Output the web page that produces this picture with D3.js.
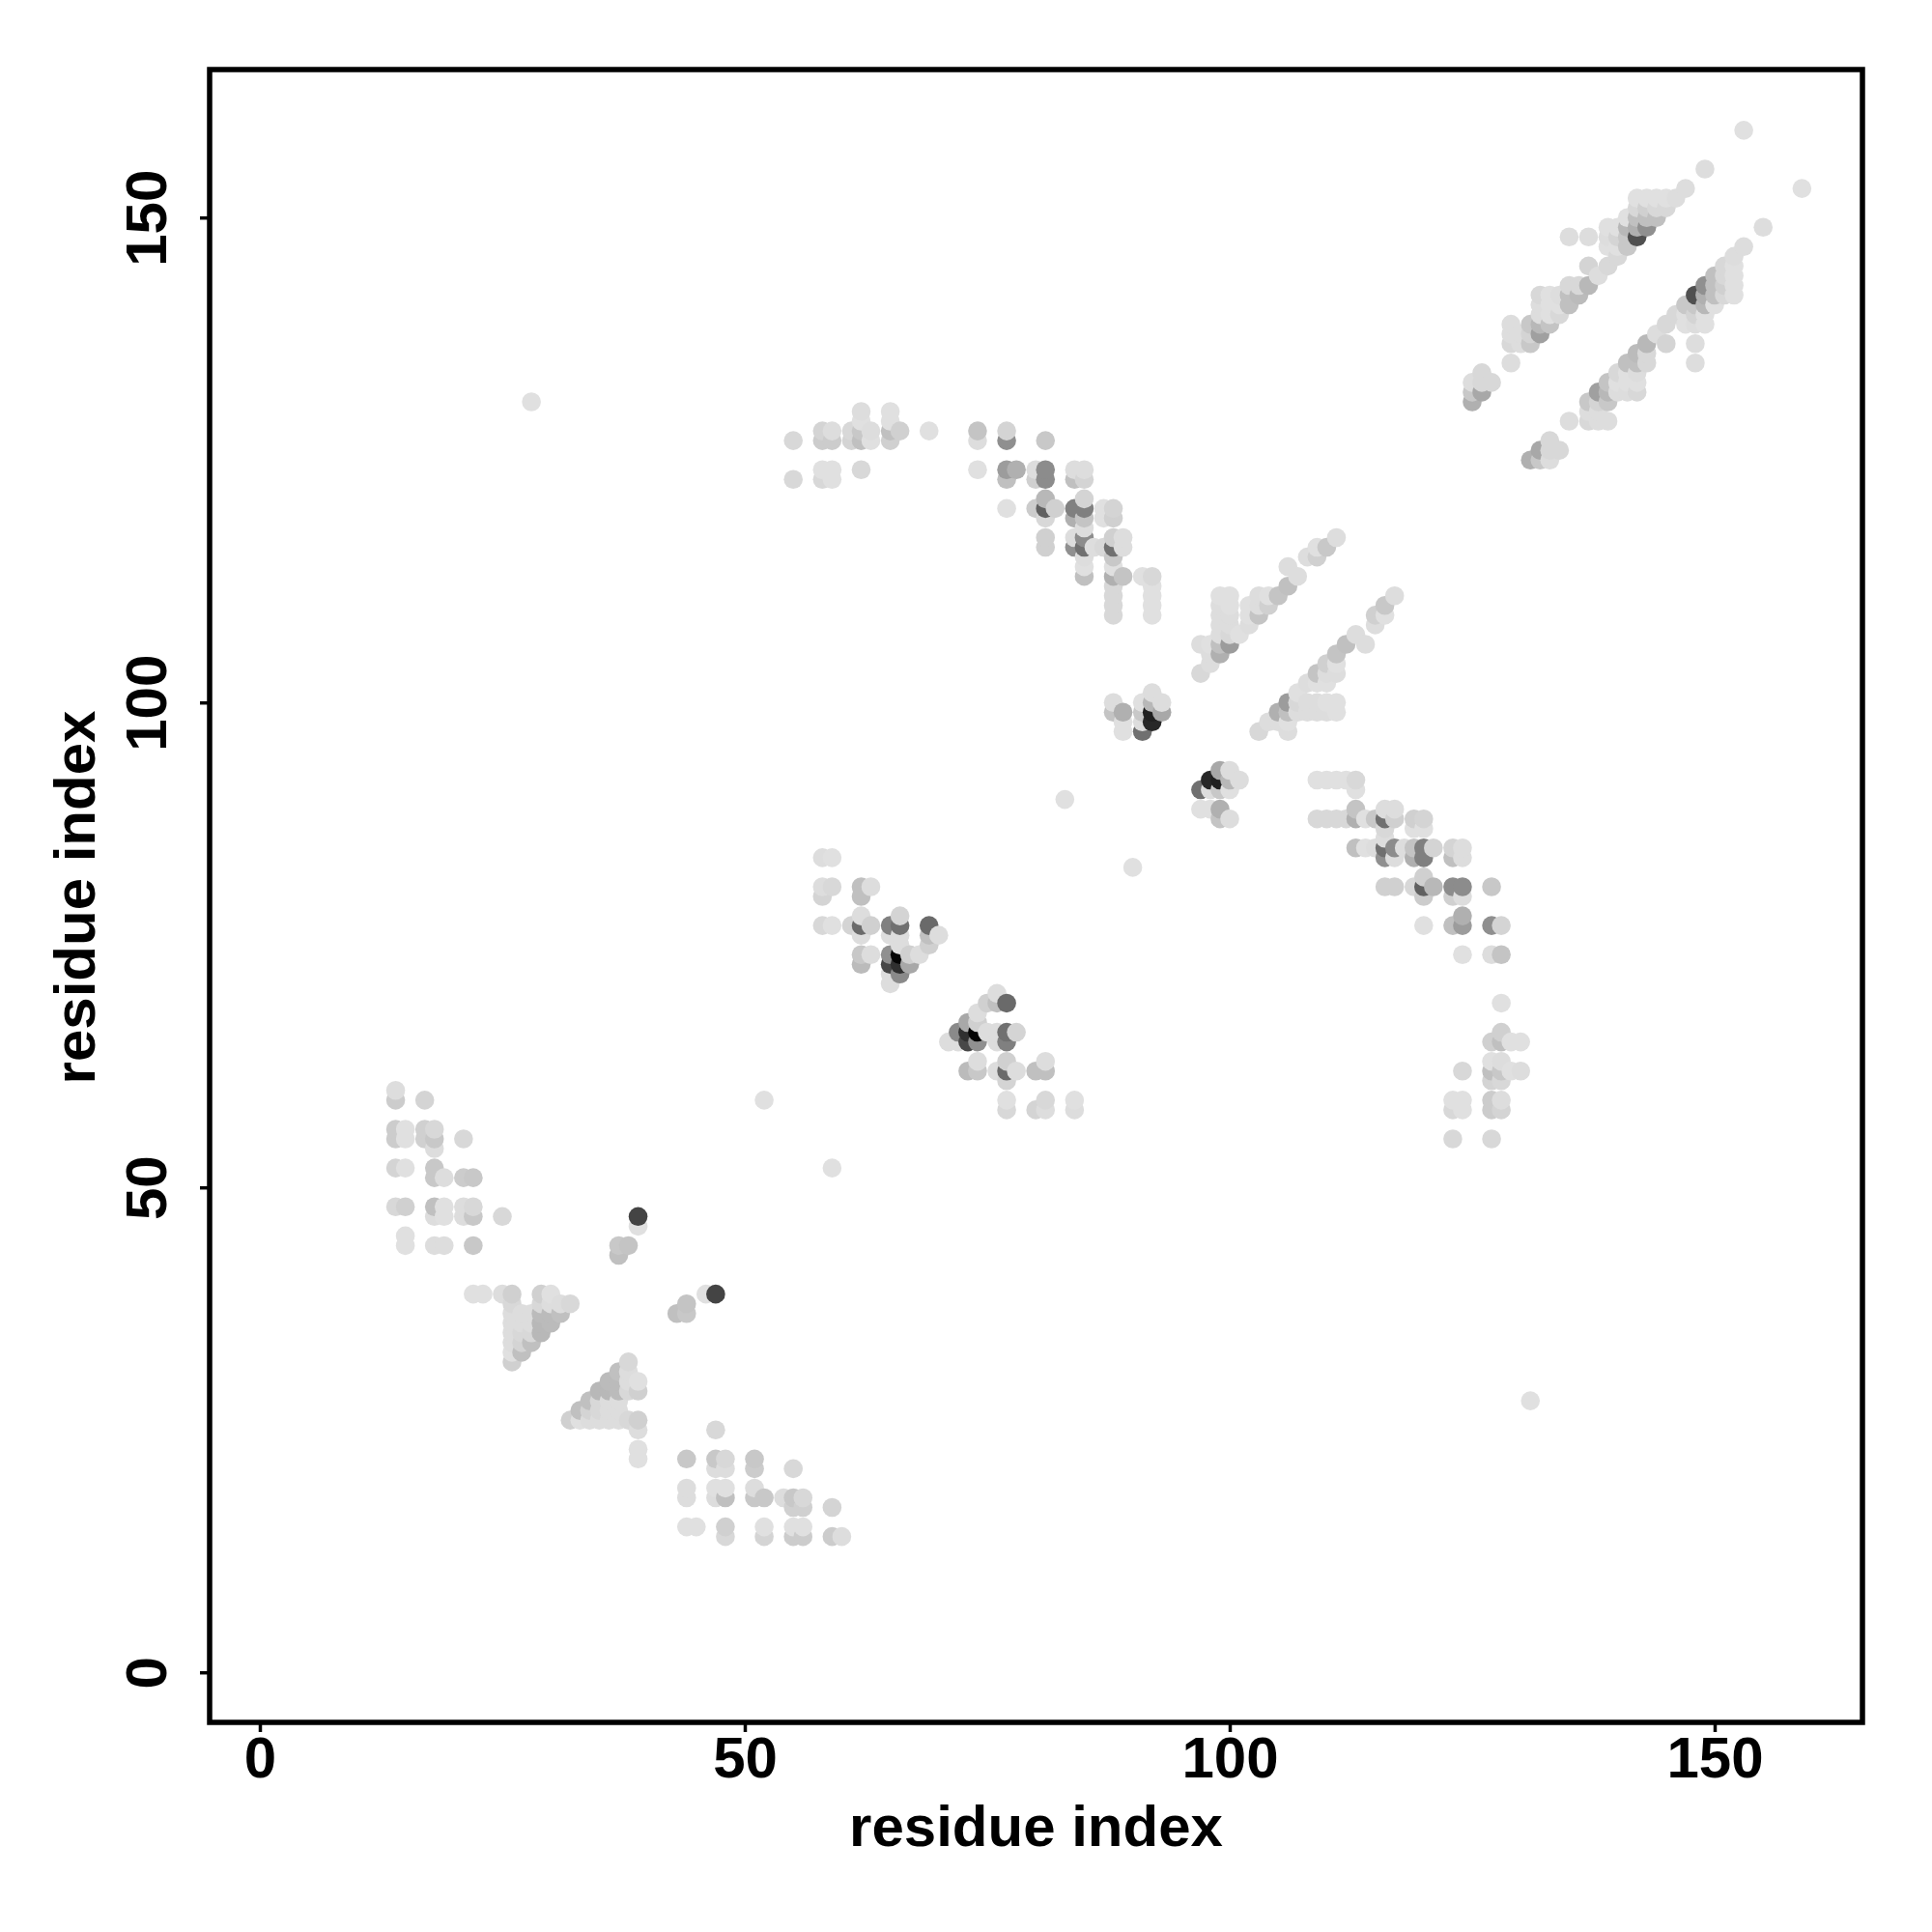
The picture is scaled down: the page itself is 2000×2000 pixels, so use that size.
<!DOCTYPE html>
<html><head><meta charset="utf-8">
<script src="https://cdn.jsdelivr.net/npm/d3@7/dist/d3.min.js"></script>
<style>html,body{margin:0;padding:0;background:#fff}svg{display:block}</style>
</head><body><svg id="c" width="2000" height="2000"></svg>
<script>
// Each contact: [residue i, residue j, grey level]; the map is symmetric, the mirror is drawn too.
const helixLeft = [
[14,60,221],[14,59,204],[14,56,204],[14,55,204],[14,52,212],[14,48,216],
[15,56,224],[15,55,224],[15,52,224],[15,48,208],[15,45,224],[15,44,224],
[17,59,212],[17,56,208],[17,55,208],
[18,56,216],[18,55,200],[18,54,221],[18,52,200],[18,51,200],[18,48,192],[18,47,221],[18,44,221],
[19,51,221],[19,48,224],[19,47,224],[19,44,221],
[21,55,216],[21,51,204],[21,48,221],[21,47,221],
[22,51,200],[22,48,216],[22,47,200],[22,44,200],[25,47,216]];
const triangle = [
[22,39,224],[23,39,224],[25,39,221],
[26,39,208],[26,38,216],[26,37,221],[26,36,221],[26,35,221],[26,34,221],[26,33,224],[26,32,208],
[27,37,221],[27,36,221],[27,35,216],[27,34,212],[27,33,192],
[28,37,221],[28,36,221],[28,35,216],[28,34,192],
[29,39,208],[29,38,216],[29,37,187],[29,36,184],[29,35,184],
[30,39,224],[30,38,221],[30,37,187],[30,36,187],
[31,38,221],[31,37,192],[32,38,216],
[37,44,200],[37,43,192],[38,44,196],[39,47,68],[39,46,224]];
const farPairs = [[28,131,224],[52,59,224],[83,90,224]];
const sheetLeft = [
[55,127,216],[55,123,216],
[58,128,212],[58,127,204],[58,124,224],[58,123,216],[58,84,221],[58,81,221],[58,80,212],[58,77,216],
[59,128,221],[59,127,204],[59,124,224],[59,123,224],[59,84,224],[59,81,216],[59,77,224],
[61,128,216],[61,127,212],[61,77,212],
[62,130,221],[62,129,224],[62,128,200],[62,127,192],[62,124,216],[62,81,192],[62,80,192],[62,78,221],[62,77,106],[62,76,221],[62,74,200],[62,73,187],
[63,128,221],[63,127,224],[63,81,221],[63,77,208],[63,74,221],
[65,130,224],[65,129,224],[65,128,192],[65,127,208],[65,77,128],[65,76,221],[65,74,144],[65,73,72],[65,72,221],[65,71,221],
[66,128,208],[66,78,212],[66,77,112],[66,76,221],[66,75,221],[66,74,5],[66,73,48],[66,72,138],
[67,74,208],[67,73,168],[68,74,221],[69,128,224],[69,77,106],[69,76,192],[69,75,208],[70,76,221]];
const sheetMiddle = [
[74,128,196],[74,127,221],[74,124,224],
[77,128,212],[77,127,143],[77,124,156],[77,123,192],[77,120,224],
[78,124,176],
[80,124,221],[80,123,208],[80,120,204],
[81,127,200],[81,124,140],[81,123,140],[81,121,184],[81,120,96],[81,119,216],[81,117,208],[81,116,208],
[82,120,208],
[84,124,221],[84,123,192],[84,120,128],[84,119,176],[84,117,221],[84,116,144],
[85,124,221],[85,123,212],[85,121,212],[85,120,128],[85,119,196],[85,118,221],[85,117,140],[85,116,112],[85,115,221],[85,114,224],[85,113,192],
[86,116,221],[87,120,224],[87,119,224],[87,116,216],
[88,120,212],[88,119,208],[88,117,208],[88,116,112],[88,115,200],[88,114,224],[88,113,176],[88,112,216],[88,111,216],[88,110,216],[88,109,216],[88,100,221],[88,99,196],
[89,117,221],[89,116,221],[89,113,196],[89,99,176],[89,98,224],[89,97,224],
[91,113,224],[91,100,224],[91,99,200],[91,98,221],[91,97,112],
[92,113,216],[92,112,224],[92,111,224],[92,110,224],[92,109,224],[92,101,221],[92,100,184],[92,99,32],[92,98,40],
[93,100,221],[93,99,168]];
const strandPair = [
[97,106,221],[97,103,216],[98,106,224],[98,105,221],[98,104,221],
[99,111,224],[99,110,221],[99,109,221],[99,108,221],[99,107,221],[99,106,192],[99,105,176],
[100,111,224],[100,110,224],[100,109,221],[100,108,221],[100,107,216],[100,106,156],[101,107,224],
[102,110,224],[102,109,224],[102,108,221],[103,111,221],[103,110,221],[103,109,196],
[104,111,224],[104,110,208],[105,111,196],[106,114,221],[106,112,192],[107,113,221],
[108,115,221],[109,116,224],[109,115,208],[110,116,200],[111,117,221]];
const sheetRight = [
[125,133,221],[125,132,200],[125,131,176],[126,134,216],[126,133,216],[126,132,168],[127,133,216],
[129,139,221],[129,138,221],[129,137,216],[129,135,221],
[130,138,221],[130,137,221],[131,139,200],[131,138,212],[131,137,200],
[132,142,216],[132,141,221],[132,140,221],[132,139,184],[132,138,160],
[133,142,224],[133,141,224],[133,140,224],[133,139,196],
[134,142,221],[134,141,224],[134,140,216],
[135,148,221],[135,143,216],[135,142,192],[135,141,192],
[136,143,216],[136,142,187],[137,148,221],[137,145,212],[137,143,184],[138,144,221],
[139,149,224],[139,148,221],[139,147,224],[139,145,216],
[140,149,224],[140,148,212],[140,147,224],[140,146,216],
[141,150,224],[141,149,184],[141,148,200],[141,147,200],
[142,152,224],[142,151,216],[142,150,192],[142,149,176],[142,148,80],
[143,152,224],[143,151,208],[143,150,192],[143,149,144],
[144,152,224],[144,151,216],[144,150,192],
[145,152,224],[145,151,216],[146,152,221],[147,153,221],[149,155,221],[153,159,224]];

const contacts = [helixLeft, triangle, farPairs, sheetLeft, sheetMiddle, strandPair, sheetRight].flat();
const allPoints = contacts.concat(contacts.map(([i,j,g]) => [j,i,g]))
  .sort((a,b) => a[0]-b[0] || a[1]-b[1]);

const tickValues = [0,50,100,150];
const axisTitle = "residue index";

const box = {l:217,r:1928,t:72,b:1783};
const x = d3.scaleLinear().domain([0,150]).range([269,1775]);
const y = d3.scaleLinear().domain([0,150]).range([1731.2,225.2]);

const svg = d3.select("#c");
svg.append("rect").attr("width",2000).attr("height",2000).attr("fill","#fff");

svg.append("g").selectAll("circle").data(allPoints).join("circle")
  .attr("cx",d=>x(d[0])).attr("cy",d=>y(d[1])).attr("r",9.8)
  .attr("fill",d=>d3.rgb(d[2],d[2],d[2]));

const font = "'Liberation Sans', Arial, sans-serif";
const gx = svg.append("g").attr("transform",`translate(0,${box.b})`)
  .call(d3.axisBottom(x).tickValues(tickValues).tickSize(10).tickSizeOuter(0).tickPadding(4));
const gy = svg.append("g").attr("transform",`translate(${box.l},0)`)
  .call(d3.axisLeft(y).tickValues(tickValues).tickSize(10).tickSizeOuter(0).tickPadding(24));
[gx,gy].forEach(g=>{
  g.select(".domain").remove();
  g.selectAll("line").attr("stroke","#000").attr("stroke-width",3.5);
  g.selectAll("text").attr("fill","#000").style("font-family",font).style("font-weight","bold").style("font-size","60px");
});
gy.selectAll("text").attr("transform","rotate(-90) translate(0,-45)")
  .attr("x",0).attr("y",0).attr("dy",0).attr("text-anchor","middle");

svg.append("rect").attr("x",box.l).attr("y",box.t).attr("width",box.r-box.l).attr("height",box.b-box.t)
  .attr("fill","none").attr("stroke","#000").attr("stroke-width",5.5);

svg.append("text").attr("x",(box.l+box.r)/2).attr("y",1911).attr("text-anchor","middle")
  .style("font-family",font).style("font-weight","bold").style("font-size","60px").text(axisTitle);
svg.append("text").attr("transform",`translate(98,929) rotate(-90)`).attr("text-anchor","middle")
  .style("font-family",font).style("font-weight","bold").style("font-size","60px").text(axisTitle);
</script></body></html>
